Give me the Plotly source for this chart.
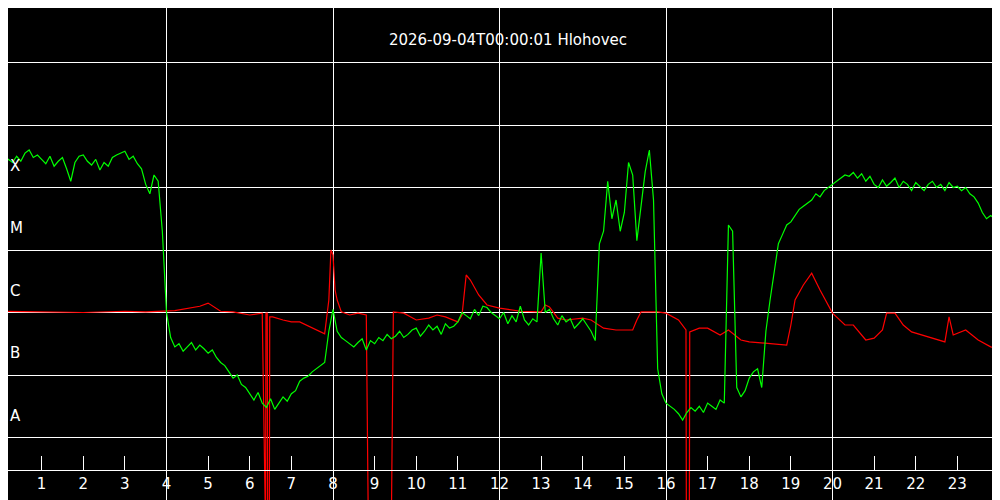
import numpy as np
import plotly.graph_objects as go

# long channel, log10 flux, every 6 minutes
green_log = [
    -3.85, -3.62, -3.55, -3.60, -3.50, -3.58, -3.45, -3.40, -3.52, -3.48,
    -3.55, -3.62, -3.50, -3.66, -3.58, -3.52, -3.70, -3.90, -3.60, -3.50,
    -3.48, -3.58, -3.64, -3.55, -3.72, -3.60, -3.66, -3.52, -3.48, -3.45,
    -3.42, -3.55, -3.50, -3.62, -3.70, -3.95, -4.10, -3.80, -3.90, -4.70,
    -6.00, -6.40, -6.55, -6.50, -6.62, -6.55, -6.48, -6.60, -6.52, -6.58,
    -6.65, -6.60, -6.72, -6.80, -6.85, -6.95, -7.05, -7.00, -7.15, -7.20,
    -7.30, -7.40, -7.28, -7.45, -7.52, -7.38, -7.55, -7.45, -7.35, -7.42,
    -7.30, -7.25, -7.10, -7.05, -7.02, -6.95, -6.90, -6.85, -6.80, -6.30,
    -5.95, -6.30, -6.40, -6.45, -6.50, -6.55, -6.48, -6.42, -6.60, -6.45,
    -6.50, -6.40, -6.45, -6.35, -6.42, -6.38, -6.30, -6.40, -6.35, -6.28,
    -6.25, -6.38, -6.30, -6.20, -6.28, -6.22, -6.35, -6.18, -6.25, -6.22,
    -6.15, -6.00, -6.05, -6.10, -5.95, -6.05, -5.90, -5.92, -6.00, -6.05,
    -6.10, -6.00, -6.18, -6.05, -6.15, -5.90, -6.12, -6.20, -6.10, -6.15,
    -5.05, -6.00, -5.95, -6.10, -6.20, -6.05, -6.15, -6.10, -6.25, -6.18,
    -6.10, -6.20, -6.30, -6.45, -4.90, -4.70, -3.90, -4.50, -4.20, -4.70,
    -4.40, -3.60, -3.80, -4.85, -4.30, -3.75, -3.40, -4.20, -6.90, -7.30,
    -7.45, -7.50, -7.55, -7.62, -7.72, -7.60, -7.52, -7.58, -7.50, -7.60,
    -7.45, -7.50, -7.55, -7.40, -7.45, -4.60, -4.70, -7.20, -7.35, -7.25,
    -7.05, -6.95, -6.90, -7.20, -6.30, -5.80, -5.35, -4.90, -4.75, -4.60,
    -4.55, -4.45, -4.35, -4.30, -4.25, -4.20, -4.10, -4.15, -4.05, -4.00,
    -3.95, -3.90, -3.85, -3.80, -3.82, -3.76, -3.85, -3.78, -3.90, -3.82,
    -3.95, -4.00, -3.88, -3.98, -3.92, -3.85, -4.00, -3.90, -3.95, -4.05,
    -3.92, -3.98, -4.05, -3.95, -3.90, -4.00, -3.95, -4.05, -3.92, -4.00,
    -3.98, -4.05, -4.00, -4.10, -4.15, -4.25, -4.40, -4.50, -4.45, -4.50,
    -4.45,
]
green_hours = np.arange(len(green_log)) * 0.1

# short channel, hours and log10 flux (-9.5 = dropout)
red_hours = [0, 0, 0.02, 1.0, 2.0, 3.0, 3.5, 4.2, 4.8, 5.0, 5.3, 5.6, 6.0, 6.3,
             6.38, 6.39, 6.42, 6.43, 6.47, 6.48, 6.55, 6.8, 7.0, 7.2, 7.5, 7.8,
             7.9, 7.95, 8.0, 8.05, 8.1, 8.2, 8.4, 8.6, 8.8, 8.85, 8.9, 9.4, 9.45,
             9.7, 10.0, 10.3, 10.5, 10.7, 11.0, 11.1, 11.2, 11.3, 11.5, 11.7, 12.0,
             12.5, 13.0, 13.1, 13.2, 13.4, 13.6, 14.0, 14.2, 14.5, 14.8, 15.2, 15.3,
             15.4, 15.8, 16.0, 16.3, 16.48, 16.49, 16.56, 16.57, 16.8, 17.0, 17.3,
             17.5, 17.8, 18.0, 18.5, 18.9, 19.0, 19.1, 19.3, 19.5, 19.7, 19.9, 20.0,
             20.3, 20.5, 20.8, 21.0, 21.2, 21.3, 21.5, 21.7, 21.9, 22.0, 22.5, 22.7,
             22.8, 22.9, 23.2, 23.5, 23.8, 24.0]
red_log = [-9.5, -4.79, -5.98, -5.99, -6.0, -5.98, -5.99, -5.97, -5.90, -5.85,
           -5.98, -5.99, -6.04, -6.01, -9.5, -6.01, -6.01, -9.5, -9.5, -6.07,
           -6.07, -6.12, -6.15, -6.15, -6.25, -6.34, -5.8, -5.0, -5.08, -5.64,
           -5.8, -5.99, -6.04, -6.01, -6.04, -9.5, -9.5, -9.5, -5.99, -6.01,
           -6.12, -6.09, -6.04, -6.07, -6.15, -6.04, -5.40, -5.48, -5.72, -5.88,
           -5.93, -5.98, -5.99, -5.88, -5.91, -6.09, -6.12, -6.09, -6.12, -6.25,
           -6.28, -6.28, -6.12, -5.99, -5.99, -6.01, -6.12, -6.28, -9.5, -9.5,
           -6.31, -6.25, -6.25, -6.36, -6.28, -6.44, -6.47, -6.50, -6.52, -6.20,
           -5.80, -5.56, -5.37, -5.64, -5.88, -6.01, -6.20, -6.20, -6.44, -6.41,
           -6.28, -6.01, -6.01, -6.20, -6.31, -6.33, -6.44, -6.47, -6.07, -6.36,
           -6.28, -6.44, -6.55, -6.57]

hour_ticks = list(range(1, 24))
class_labels = ['A', 'B', 'C', 'M', 'X']
class_logs = [-8, -7, -6, -5, -4]

# the page body adds 8px; shift the axis ranges so the grid lands where it should
off = 8
x_rng = [off / 41.625, (1000 + off) / 41.625]
y_rng = [-1 - (500 + off) / 62.5, -1 - off / 62.5]

fig = go.Figure()
fig.add_trace(go.Scatter(x=red_hours, y=[10 ** v for v in red_log], mode='lines',
                         line=dict(color='#ff0000', width=1.2), hoverinfo='skip'))
fig.add_trace(go.Scatter(x=green_hours, y=[10 ** v for v in green_log], mode='lines',
                         line=dict(color='#00ff00', width=1.2), hoverinfo='skip'))
# invisible trace to carry the tick axis
fig.add_trace(go.Scatter(x=[0, 24], y=[None, None], xaxis='x2', showlegend=False))

for lab, lg in zip(class_labels, class_logs):
    fig.add_annotation(x=0, y=lg + 0.35, xref='paper', yref='y', text=lab, showarrow=False,
                       xanchor='left', yanchor='middle',
                       font=dict(color='white', size=15))

fig.update_layout(
    width=1000, height=500, margin=dict(l=0, r=0, t=0, b=0),
    paper_bgcolor='black', plot_bgcolor='black', showlegend=False,
    font=dict(family='DejaVu Sans', color='white', size=15),
    title=dict(text='2026-09-04T00:00:01 Hlohovec', x=0.5, y=1 - 32 / 500, xanchor='center',
               yanchor='middle', font=dict(size=15, color='white')),
    xaxis=dict(range=x_rng, dtick=4, tick0=0, showgrid=True, gridcolor='white',
               gridwidth=1, showticklabels=False, zeroline=False),
    xaxis2=dict(range=x_rng, overlaying='x', anchor='free', position=1 - (470 - off) / 500,
                tickvals=hour_ticks, ticks='inside', ticklen=14, tickcolor='white',
                showline=True, linecolor='white', showgrid=False,
                tickfont=dict(color='white', size=15)),
    yaxis=dict(type='log', range=y_rng, dtick=1, showgrid=True, gridcolor='white',
               showticklabels=False, zeroline=False),
)

fig.write_html('out.html')
